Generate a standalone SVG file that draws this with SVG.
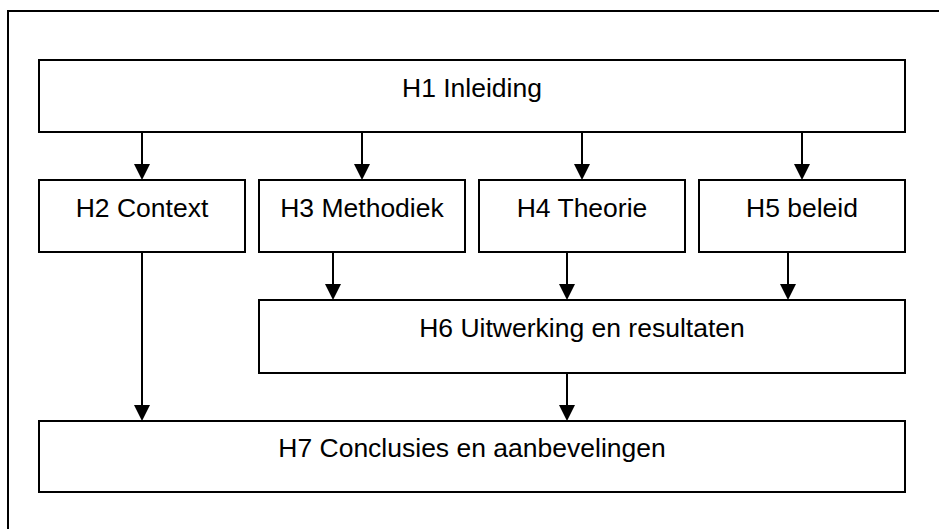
<svg xmlns="http://www.w3.org/2000/svg" width="939" height="529" viewBox="0 0 939 529">
  <style>
    .box { fill: #ffffff; stroke: #000000; stroke-width: 2; }
    .frame { fill: #ffffff; stroke: #000000; stroke-width: 2; }
    .label { font-family: "Liberation Sans", Arial, sans-serif; font-size: 26.5px; fill: #000000; text-anchor: middle; }
    .edge { stroke: #000000; stroke-width: 2; fill: none; marker-end: url(#arrow); }
  </style>
  <defs>
    <marker id="arrow" viewBox="0 0 16 16" refX="6" refY="8" markerWidth="16" markerHeight="16" markerUnits="userSpaceOnUse" orient="auto">
      <path d="M0,0 L16,8 L0,16 Z" fill="#000000"/>
    </marker>
  </defs>

  <rect width="939" height="529" fill="#ffffff"/>
  <!-- outer frame: only its top and left edges fall inside the page -->
  <rect class="frame" x="8" y="11" width="960" height="560"/>

  <g id="connectors">
    <line class="edge" x1="142" y1="132" x2="142" y2="170"/>
    <line class="edge" x1="362" y1="132" x2="362" y2="170"/>
    <line class="edge" x1="582" y1="132" x2="582" y2="170"/>
    <line class="edge" x1="802" y1="132" x2="802" y2="170"/>
    <line class="edge" x1="333" y1="252" x2="333" y2="290"/>
    <line class="edge" x1="567" y1="252" x2="567" y2="290"/>
    <line class="edge" x1="788" y1="252" x2="788" y2="290"/>
    <line class="edge" x1="142" y1="252" x2="142" y2="411"/>
    <line class="edge" x1="567" y1="373" x2="567" y2="411"/>
  </g>

  <g id="h1">
    <rect class="box" x="39" y="60" width="866" height="72"/>
    <text class="label" x="472" y="97">H1 Inleiding</text>
  </g>
  <g id="h2">
    <rect class="box" x="39" y="180" width="206" height="72"/>
    <text class="label" x="142" y="217">H2 Context</text>
  </g>
  <g id="h3">
    <rect class="box" x="259" y="180" width="206" height="72"/>
    <text class="label" x="362" y="217">H3 Methodiek</text>
  </g>
  <g id="h4">
    <rect class="box" x="479" y="180" width="206" height="72"/>
    <text class="label" x="582" y="217">H4 Theorie</text>
  </g>
  <g id="h5">
    <rect class="box" x="699" y="180" width="206" height="72"/>
    <text class="label" x="802" y="217">H5 beleid</text>
  </g>
  <g id="h6">
    <rect class="box" x="259" y="300" width="646" height="73"/>
    <text class="label" x="582" y="337">H6 Uitwerking en resultaten</text>
  </g>
  <g id="h7">
    <rect class="box" x="39" y="421" width="866" height="71"/>
    <text class="label" x="472" y="457">H7 Conclusies en aanbevelingen</text>
  </g>
</svg>
